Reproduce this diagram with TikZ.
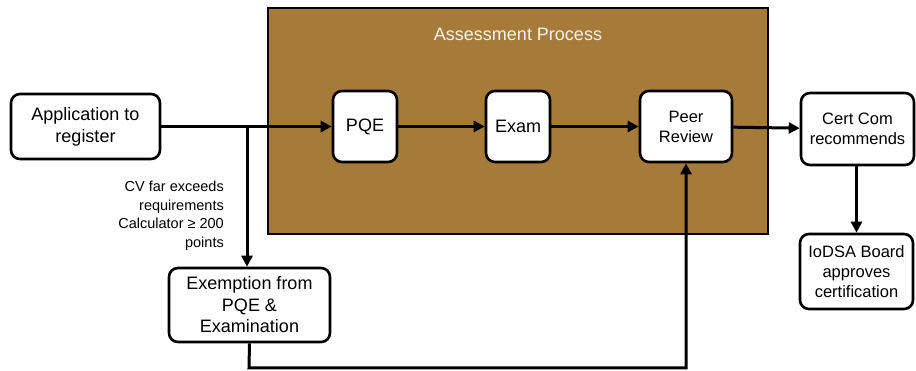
\documentclass[tikz,border=0pt]{standalone}
\usepackage{fontspec}
\setmainfont{Liberation Sans}
\usetikzlibrary{arrows.meta}
\definecolor{brownbox}{HTML}{A67A38}
\begin{document}
\begin{tikzpicture}[x=1pt,y=-1pt,
  box/.style={draw=black,line width=2.6pt,fill=white,rounded corners=9pt,align=center,font=\fontsize{18}{22}\selectfont,inner sep=0pt},
  sbox/.style={box,font=\fontsize{16.5}{20}\selectfont},
  conn/.style={line width=3pt,-{Triangle[length=11pt,width=11pt]}},
  lbl/.style={align=right,font=\fontsize{14.5}{18.5}\selectfont,inner sep=0pt}]
\useasboundingbox (0,0) rectangle (916,371);
\node[draw=black,line width=2.6pt,fill=brownbox,minimum width=500pt,minimum height=226pt,inner sep=0pt] (proc) at (518,121) {};
\node[text=white!92!brownbox,font=\fontsize{18}{22}\selectfont] (proctitle) at (518,34) {Assessment Process};
\node[box,minimum width=149pt,minimum height=65pt] (app) at (85.5,126.5) {Application to\\register};
\node[box,minimum width=64pt,minimum height=71pt] (pqe) at (365,126.5) {PQE};
\node[box,minimum width=64pt,minimum height=71pt] (exam) at (518,126.5) {Exam};
\node[sbox,minimum width=92pt,minimum height=71pt] (peer) at (686,126.5) {Peer\\Review};
\node[sbox,minimum width=113pt,minimum height=72pt] (cert) at (857.5,129) {Cert Com\\recommends};
\node[sbox,minimum width=113pt,minimum height=75pt] (board) at (856.5,271.5) {IoDSA Board\\approves\\certification};
\node[box,minimum width=161pt,minimum height=74pt,font=\fontsize{18}{21.5}\selectfont] (exempt) at (249.5,305) {Exemption from\\PQE \&\\Examination};
\node[lbl,anchor=north east] (cond) at (224,181) {CV far exceeds\\requirements\\Calculator ≥ 200\\points};
\coordinate (split) at (247,126.5);
\coordinate (low1) at (249,368);
\coordinate (low2) at (686,368);
\draw[conn] (app) -- (pqe);
\draw[conn] (pqe) -- (exam);
\draw[conn] (exam) -- (peer);
\draw[conn] (peer) -- (cert);
\draw[conn] (cert.south -| board.north) -- (board);
\draw[conn] (split) -- (split |- exempt.north);
\draw[conn] (exempt.south) -- (low1) -- (low2) -- (peer.south);
\end{tikzpicture}
\end{document}
